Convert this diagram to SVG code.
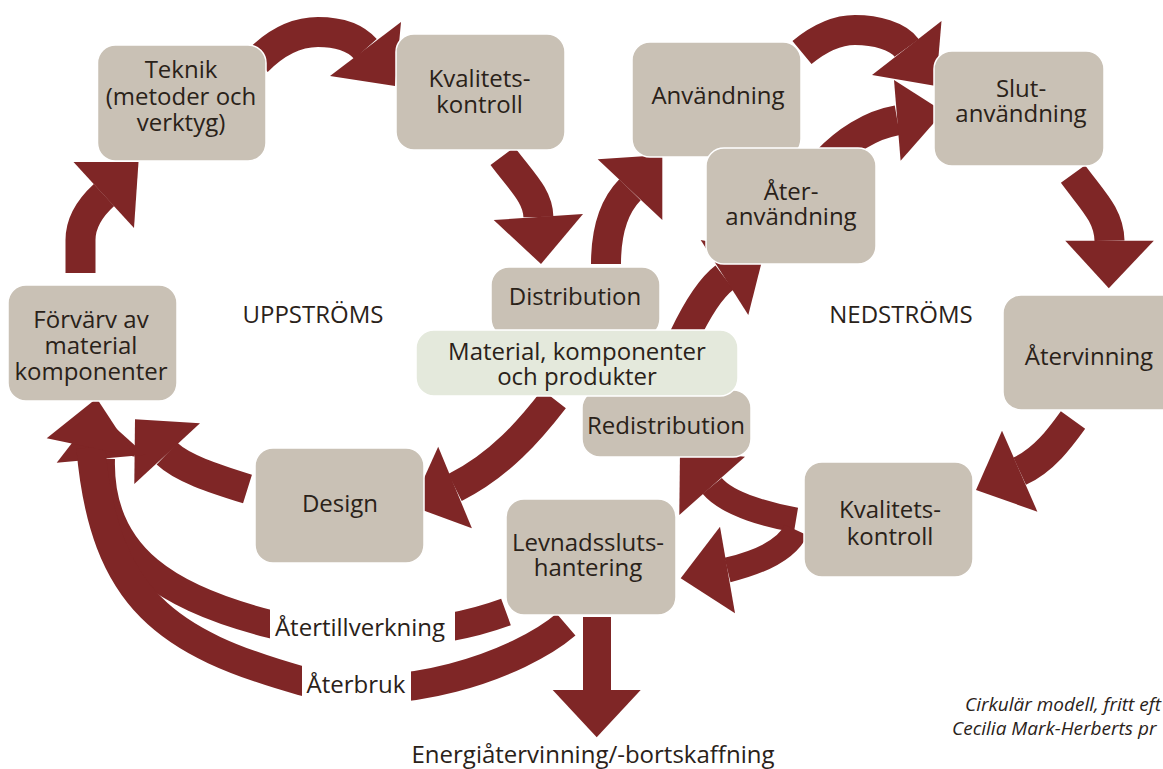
<svg xmlns="http://www.w3.org/2000/svg" width="1163" height="769" viewBox="0 0 1163 769">
<style>
.sh{fill:none;stroke:#7f2626;stroke-width:30;stroke-linecap:butt}
.ah{fill:#7f2626}
.box{fill:#c9c1b5;stroke:#fff;stroke-width:1.5}
.mat{fill:#e4e9dc;stroke:#fff;stroke-width:1.5}
.bg{fill:#fff}
text{font-family:"Open Sans","Liberation Sans",sans-serif;font-size:24px;fill:#2a2219;text-anchor:middle}
.cap{font-style:italic;font-size:19px;text-anchor:start}
</style>
<rect width="1163" height="769" fill="#fff"/>
<g id="connectors">
  <path class="sh" d="M80.5,273 L80.5,240 C80.5,222 92,206 104,195"/>
  <polygon class="ah" points="73.5,162 138.5,162 134,228"/>
  <path class="sh" d="M257,61.5 C280,38 300,32 318,32 C336,32 354,36 365.5,49"/>
  <polygon class="ah" points="401,22 395,86 330,76"/>
  <path class="sh" d="M502.5,156 C522,182 538,196 538.4,217"/>
  <polygon class="ah" points="493.7,220 541,264 583,214"/>
  <path class="sh" d="M606,264 C606,230 614,206 630,189.7"/>
  <polygon class="ah" points="597.7,159.3 662.3,155 662.3,220"/>
  <path class="sh" d="M802,52.5 C822,36 838,30 855,30 C876,30 898,36 906.7,48"/>
  <polygon class="ah" points="941.5,21 936,86 872,75"/>
  <path class="sh" d="M827,161 C845,142 870,125 897.3,120.3"/>
  <polygon class="ah" points="894,80 943.7,111.7 900.6,160.7"/>
  <path class="sh" d="M684,337 C694,316 708,290 724.5,277.5"/>
  <polygon class="ah" points="700.7,240 764.3,251.7 748.3,315"/>
  <path class="sh" d="M1073,174 C1092,200 1109,215 1109.5,240.7"/>
  <polygon class="ah" points="1065.3,240.7 1108.8,288.3 1153.8,240.7"/>
  <path class="sh" d="M1073,420 C1060,438 1044,460 1019.7,471.2"/>
  <polygon class="ah" points="1002,430.7 976,490 1037.4,511.7"/>
  <path class="sh" style="stroke-width:25" d="M796,520 C772,516 728,505 712.2,485.9"/>
  <polygon class="ah" points="745,456.7 680,450 679.3,515"/>
  <path class="sh" style="stroke-width:25" d="M796,530 C787,550 760,562 727.5,570"/>
  <polygon class="ah" points="720,526.7 680.7,578.3 735,613.3"/>
  <path class="sh" d="M554,399 C530,430 500,465 455,487.5"/>
  <polygon class="ah" points="438.2,446.7 411.4,506 471.9,528.3"/>
  <path class="sh" d="M247.5,489 C212,478 182,468 167,453.7"/>
  <polygon class="ah" points="200,423.3 135,419.3 134.3,484"/>
  <path class="sh" style="stroke-width:28" d="M506,612 C430,640 330,640 270,624 C175,600 98,560 101,458.7"/>
  <polygon class="ah" points="56.7,462.7 96.7,410.9 145.3,454.8"/>
  <path class="sh" style="stroke-width:29" d="M566,624.5 C520,664 398,708 302,681 C167.6,643.2 104,600 90.8,447.5"/>
  <polygon class="ah" points="46.7,438.3 96.7,398.3 135,456.7"/>
  <path class="sh" style="stroke-width:28" d="M597,617 L597,690"/>
  <polygon class="ah" points="552.7,690 640.7,690 596.7,737.3"/>
  <rect class="bg" x="270" y="600" width="185" height="50"/>
  <text x="360" y="636">Återtillverkning</text>
  <rect class="bg" x="302" y="658" width="109" height="50"/>
  <text x="356" y="693">Återbruk</text>
  <text x="593" y="763">Energiåtervinning/-bortskaffning</text>
</g>
<g id="n-forvarv"><rect class="box" x="8" y="285" width="169" height="116" rx="18"/><text x="91" y="328">Förvärv av<tspan x="91" dy="26">material</tspan><tspan x="91" dy="26">komponenter</tspan></text></g>
<g id="n-teknik"><rect class="box" x="97.5" y="45" width="168.5" height="116" rx="18"/><text x="181" y="78">Teknik<tspan x="181" dy="27">(metoder och</tspan><tspan x="181" dy="26">verktyg)</tspan></text></g>
<g id="n-kval1"><rect class="box" x="396" y="34" width="169" height="116" rx="18"/><text x="479.5" y="87">Kvalitets-<tspan x="479.5" dy="26">kontroll</tspan></text></g>
<g id="n-anv"><rect class="box" x="632" y="42" width="169" height="115" rx="18"/><text x="718" y="104">Användning</text></g>
<g id="n-ateranv"><rect class="box" x="706" y="148" width="170" height="116" rx="18"/><text x="791" y="200">Åter-<tspan x="791" dy="25">användning</tspan></text></g>
<g id="n-slut"><rect class="box" x="934" y="51" width="170" height="115" rx="18"/><text x="1021" y="97">Slut-<tspan x="1021" dy="25">användning</tspan></text></g>
<g id="n-distr"><rect class="box" x="491" y="267" width="169" height="70" rx="18"/><text x="575" y="305">Distribution</text></g>
<g id="n-redistr"><rect class="box" x="582" y="390" width="169" height="67" rx="18"/><text x="666" y="434">Redistribution</text></g>
<g id="n-material"><rect class="mat" x="416" y="330" width="322" height="66" rx="18"/><text x="577" y="360">Material, komponenter<tspan x="577" dy="25">och produkter</tspan></text></g>
<g id="n-design"><rect class="box" x="255" y="448" width="169" height="115" rx="18"/><text x="340" y="512">Design</text></g>
<g id="n-levnad"><rect class="box" x="506" y="499" width="170" height="116" rx="18"/><text x="588" y="551">Levnadssluts-<tspan x="588" dy="25">hantering</tspan></text></g>
<g id="n-atervinning"><rect class="box" x="1003" y="295" width="180" height="115" rx="18"/><text x="1089" y="365">Återvinning</text></g>
<g id="n-kval2"><rect class="box" x="804" y="462" width="169" height="115" rx="18"/><text x="890" y="518">Kvalitets-<tspan x="890" dy="27">kontroll</tspan></text></g>
<g id="labels">
  <text x="313" y="323">UPPSTRÖMS</text>
  <text x="901" y="323">NEDSTRÖMS</text>
  <text class="cap" x="965" y="711">Cirkulär modell, fritt eft</text>
  <text class="cap" x="952" y="735">Cecilia Mark-Herberts pr</text>
</g>
</svg>
